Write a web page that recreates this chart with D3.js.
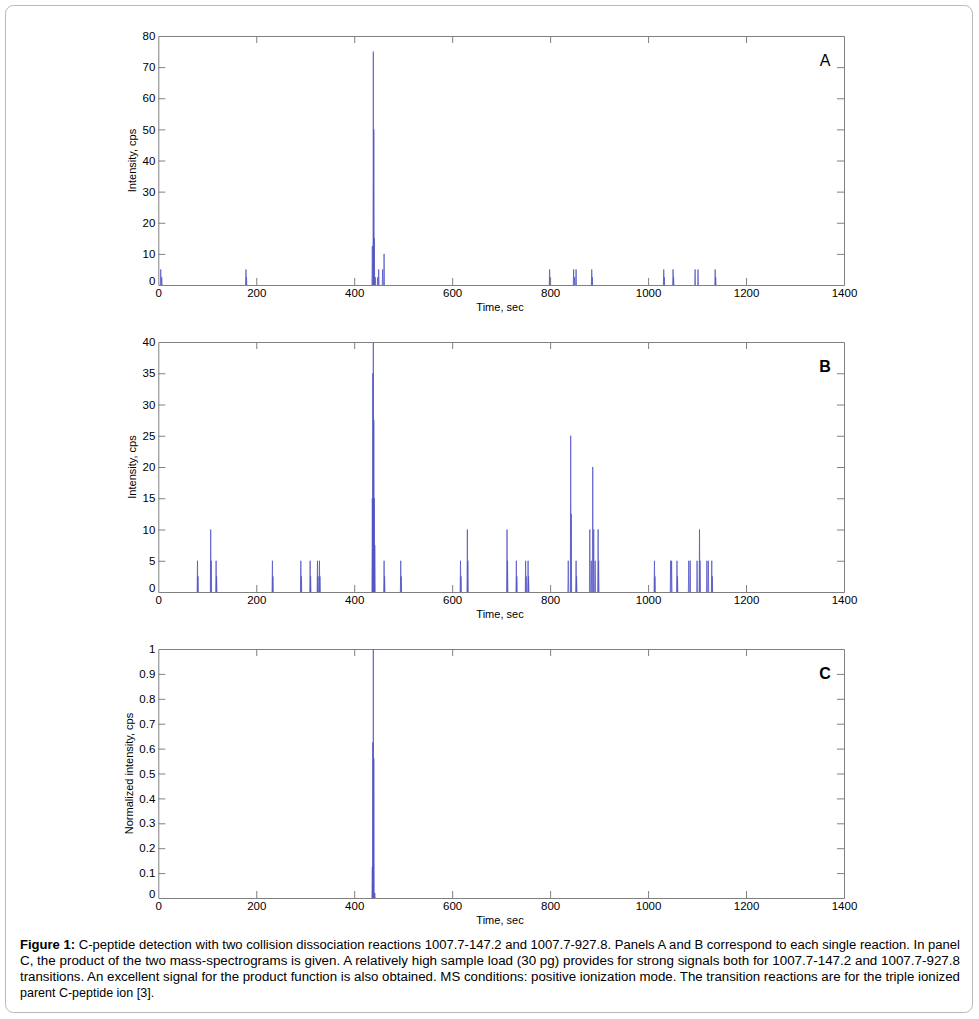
<!DOCTYPE html>
<html>
<head>
<meta charset="utf-8">
<script src="https://cdn.jsdelivr.net/npm/d3@7"></script>
<style>
  html, body { margin: 0; padding: 0; background: #fff; }
  svg { display: block; }
  text { font-family: "Liberation Sans", Arial, Helvetica, sans-serif; }
</style>
</head>
<body>
<svg id="chart" width="979" height="1019"></svg>
<script>
// ---------- data ----------
const xTicks = [0, 200, 400, 600, 800, 1000, 1200, 1400];

const yTicksA = [0, 10, 20, 30, 40, 50, 60, 70, 80];
const timesA  = [5, 7, 179, 180, 437, 439, 440, 441, 443, 448, 450, 458, 461,
                 799, 800, 848, 850, 853, 885, 886, 1032, 1033, 1051, 1052, 1096, 1102, 1137, 1138];
const valuesA = [5, 2.5, 5, 2.5, 12.5, 75, 50, 15, 2.5, 2.5, 5, 5, 10,
                 5, 2.5, 5, 2.5, 5, 5, 2.5, 5, 2.5, 5, 2.5, 5, 5, 5, 2.5];

const yTicksB = [0, 5, 10, 15, 20, 25, 30, 35, 40];
const timesB  = [80, 81, 107, 108, 118, 119, 233, 234, 291, 292, 310, 311, 325, 326, 329, 330,
                 437, 438, 439, 440, 441, 442, 461, 462, 495, 496, 617, 618, 631, 632,
                 712, 713, 731, 732, 750, 751, 755, 756, 837, 842, 843, 853, 854,
                 881, 884, 887, 889, 892, 898, 899, 1013, 1014, 1046, 1048, 1059, 1060,
                 1083, 1086, 1100, 1105, 1106, 1120, 1123, 1130, 1131];
const valuesB = [5, 2.5, 10, 5, 5, 2.5, 5, 2.5, 5, 2.5, 5, 2.5, 5, 2.5, 5, 2.5,
                 15, 35, 40, 27.5, 15, 7.5, 5, 2.5, 5, 2.5, 5, 2.5, 10, 5,
                 10, 5, 5, 2.5, 5, 2.5, 5, 2.5, 5, 25, 12.5, 5, 2.5,
                 10, 5, 20, 10, 5, 10, 5, 5, 2.5, 5, 5, 5, 2.5,
                 5, 5, 5, 10, 5, 5, 5, 5, 2.5];

const yTicksC = [0, 0.1, 0.2, 0.3, 0.4, 0.5, 0.6, 0.7, 0.8, 0.9, 1];
const timesC  = [437, 438, 439, 440, 442];
const valuesC = [0.125, 0.625, 1.0, 0.56, 0.02];

const panels = [
  { letter: "A", bold: false, top: 36,  bottom: 285, yMax: 80, yTicks: yTicksA, times: timesA, values: valuesA, ylabel: "Intensity, cps" },
  { letter: "B", bold: true,  top: 342, bottom: 592, yMax: 40, yTicks: yTicksB, times: timesB, values: valuesB, ylabel: "Intensity, cps" },
  { letter: "C", bold: true,  top: 649, bottom: 898, yMax: 1,  yTicks: yTicksC, times: timesC, values: valuesC, ylabel: "Normalized intensity, cps" }
];

const captionLines = [
  [["Figure 1:", true], [" C-peptide detection with two collision dissociation reactions 1007.7-147.2 and 1007.7-927.8. Panels A and B correspond to each single reaction. In panel", false]],
  [["C, the product of the two mass-spectrograms is given. A relatively high sample load (30 pg) provides for strong signals both for 1007.7-147.2 and 1007.7-927.8", false]],
  [["transitions. An excellent signal for the product function is also obtained. MS conditions: positive ionization mode. The transition reactions are for the triple ionized", false]],
  [["parent C-peptide ion [3].", false]]
];

// ---------- drawing ----------
const svg = d3.select("#chart");
const left = 158.3, right = 844;
const axisColor = "#808080";
const tickLen = 7;

// outer frame
svg.append("rect")
  .attr("x", 5.5).attr("y", 5.5).attr("width", 967).attr("height", 1007)
  .attr("rx", 8).attr("ry", 8)
  .attr("fill", "none").attr("stroke", "#b8b8b8").attr("stroke-width", 1);

const x = d3.scaleLinear().domain([0, 1400]).range([left, right]);

panels.forEach(p => {
  const y = d3.scaleLinear().domain([0, p.yMax]).range([p.bottom, p.top]);
  const g = svg.append("g");

  // spikes
  const spikes = p.times.map((t, i) => ({ t, v: p.values[i] }));
  g.append("g").selectAll("path").data(spikes).enter().append("path")
    .attr("d", d => `M${x(d.t - 0.8)},${y(0)}L${x(d.t)},${y(d.v)}L${x(d.t + 0.8)},${y(0)}`)
    .attr("fill", "none")
    .attr("stroke", "#5252c4")
    .attr("stroke-width", 0.75);

  // axes (MATLAB-like box with inward ticks)
  const bottomAx = d3.axisBottom(x).tickValues(xTicks).tickSizeInner(-tickLen).tickSizeOuter(0).tickPadding(4)
    .tickFormat(d3.format("d"));
  const topAx = d3.axisTop(x).tickValues(xTicks).tickSizeInner(-tickLen).tickSizeOuter(0).tickFormat("");
  const leftAx = d3.axisLeft(y).tickValues(p.yTicks).tickSizeInner(-tickLen).tickSizeOuter(0).tickPadding(3)
    .tickFormat(d => d3.format("~g")(d));
  const rightAx = d3.axisRight(y).tickValues(p.yTicks).tickSizeInner(-tickLen).tickSizeOuter(0).tickFormat("");

  const gb = g.append("g").attr("transform", `translate(0,${p.bottom})`).call(bottomAx);
  const gt = g.append("g").attr("transform", `translate(0,${p.top})`).call(topAx);
  const gl = g.append("g").attr("transform", `translate(${left},0)`).call(leftAx);
  const gr = g.append("g").attr("transform", `translate(${right},0)`).call(rightAx);

  [gb, gt, gl, gr].forEach(a => {
    a.select(".domain").attr("stroke", axisColor);
    a.selectAll(".tick line").attr("stroke", axisColor);
    a.selectAll(".tick text").attr("fill", "#000").style("font-size", "11.5px")
      .style("font-family", '"Liberation Sans", Arial, sans-serif');
  });
  // hide end ticks that would overlap the box edges
  gb.selectAll(".tick").filter(d => d === 0 || d === 1400).select("line").remove();
  gt.selectAll(".tick").filter(d => d === 0 || d === 1400).select("line").remove();
  gl.selectAll(".tick").filter(d => d === 0 || d === p.yMax).select("line").remove();
  gr.selectAll(".tick").filter(d => d === 0 || d === p.yMax).select("line").remove();
  // zero on y axis slightly up, like MATLAB
  gl.selectAll(".tick").filter(d => d === 0).select("text").attr("dy", "-0.05em");

  // x label
  g.append("text")
    .attr("x", 500).attr("y", p.bottom + 26)
    .attr("text-anchor", "middle")
    .style("font-size", "11px")
    .text("Time, sec");

  // y label
  g.append("text")
    .attr("transform", `translate(${p.letter === "C" ? 133 : 136},${(p.top + p.bottom) / 2}) rotate(-90)`)
    .attr("text-anchor", "middle")
    .style("font-size", "11px")
    .text(p.ylabel);

  // panel letter
  g.append("text")
    .attr("x", 825).attr("y", p.top + 30)
    .attr("text-anchor", "middle")
    .style("font-size", "16px")
    .style("font-weight", p.bold ? "bold" : "normal")
    .text(p.letter);
});

// caption
const capY0 = 949, capDy = 16;
captionLines.forEach((line, i) => {
  const t = svg.append("text")
    .attr("x", 20).attr("y", capY0 + i * capDy)
    .style("font-size", "12.5px")
    .style("font-family", '"Liberation Sans Narrow", "Liberation Sans", Arial, sans-serif');
  line.forEach(([s, b]) => {
    t.append("tspan").style("font-weight", b ? "bold" : "normal").text(s);
  });
  if (i < 3) {
    t.attr("textLength", 940).attr("lengthAdjust", "spacingAndGlyphs");
  }
});
</script>
</body>
</html>
